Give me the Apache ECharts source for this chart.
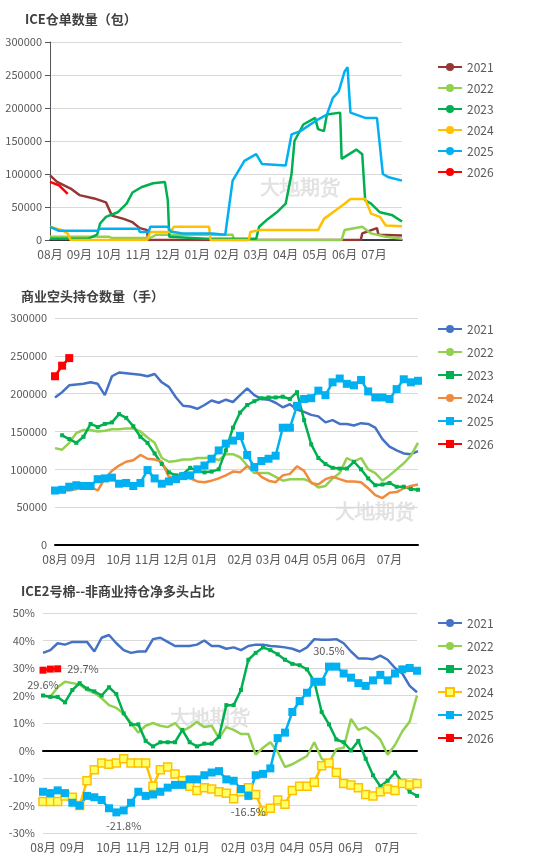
<!DOCTYPE html>
<html><head><meta charset="utf-8">
<script src="https://cdn.jsdelivr.net/npm/echarts@6/dist/echarts.min.js"></script>
<style>html,body{margin:0;padding:0;background:#fff}#chart{width:548px;height:864px}</style>
</head><body><div id="chart"></div>
<script>
var years = ['2021', '2022', '2023', '2024', '2025', '2026'];
var monthLabels = ['08月', '09月', '10月', '11月', '12月', '01月', '02月', '03月', '04月', '05月', '06月', '07月'];
var monthWeek = [0, 4, 9, 13, 17, 21, 26, 30, 34, 38, 42, 47];

// panel 1: ICE warehouse stocks, [month offset from Aug, bales]
var stock2021 = [[0,98000],[0.24,88000],[0.7,78000],[1.0,68000],[1.5,63000],[1.9,57000],[2.1,37000],[2.5,32000],[2.8,27000],[3.05,18000],[3.3,15000],[3.32,0],[10.55,0],[10.6,10000],[11.1,18000],[11.15,8000],[11.95,7000]];
var stock2022 = [[0,5000],[2.0,5000],[2.1,3000],[3.4,3000],[3.45,0],[3.6,8000],[6.2,8000],[6.25,0],[9.9,0],[10.0,15000],[10.6,20000],[10.9,10000],[11.4,5000],[11.95,2000]];
var stock2023 = [[0,2000],[1.3,2000],[1.6,8000],[1.7,25000],[1.9,35000],[2.3,42000],[2.6,55000],[2.8,72000],[3.1,80000],[3.5,86000],[3.9,88000],[4.0,60000],[4.05,5000],[5.3,2000],[7.0,2000],[7.1,20000],[7.4,32000],[7.7,42000],[8.0,55000],[8.2,100000],[8.3,150000],[8.6,175000],[9.0,185000],[9.1,168000],[9.3,165000],[9.4,190000],[9.85,193000],[9.9,123000],[10.4,137000],[10.6,130000],[10.7,60000],[10.9,55000],[11.2,42000],[11.6,38000],[11.95,28000]];
var stock2024 = [[0,20000],[0.4,15000],[0.6,10000],[0.7,0],[3.3,0],[3.4,12000],[4.1,12000],[4.2,20000],[5.4,20000],[5.45,0],[6.75,0],[6.8,12000],[7.1,15000],[9.1,15000],[9.3,32000],[9.7,45000],[10.0,55000],[10.2,62000],[10.7,62000],[10.9,40000],[11.2,35000],[11.4,22000],[11.95,21000]];
var stock2025 = [[0,20000],[0.3,14000],[1.6,14000],[1.7,17000],[3.0,17000],[3.05,12000],[3.35,12000],[3.4,20000],[4.0,20000],[4.1,13000],[4.5,10000],[5.5,10000],[5.95,8000],[6.2,90000],[6.6,120000],[7.0,130000],[7.2,115000],[8.0,113000],[8.2,160000],[8.5,165000],[9.0,180000],[9.4,190000],[9.6,215000],[9.8,225000],[10.0,255000],[10.1,262000],[10.2,193000],[10.7,185000],[11.1,185000],[11.3,100000],[11.5,95000],[11.95,90000]];
var stock2026 = [[0,88000],[0.3,83000],[0.6,70000]];

// panel 2: commercial short positions, weekly
var short2021 = [195000,202000,211000,212000,213000,215000,213000,198000,223000,228000,227000,226000,225000,223000,226000,215000,209000,195000,184000,183000,180000,185000,191000,188000,192000,189000,198000,207000,198000,193000,192000,188000,182000,186000,179000,176000,172000,170000,162000,165000,160000,160000,158000,161000,160000,155000,140000,130000,125000,121000,120000,124000];
var short2022 = [128000,126000,135000,148000,152000,152000,150000,151000,153000,153000,154000,154000,150000,142000,135000,115000,110000,111000,113000,113000,115000,115000,116000,112000,120000,120000,116000,105000,95000,95000,95000,90000,85000,87000,87000,87000,83000,76000,78000,88000,95000,115000,110000,115000,100000,95000,85000,92000,100000,108000,118000,135000];
var short2023 = [null,145000,140000,135000,143000,160000,156000,160000,162000,173000,168000,157000,143000,135000,121000,107000,96000,92000,94000,102000,98000,96000,97000,100000,125000,155000,175000,185000,190000,194000,195000,195000,196000,193000,202000,165000,133000,115000,107000,102000,101000,101000,110000,100000,88000,79000,80000,82000,77000,77000,74000,73000];
var short2024 = [72000,72000,72000,74000,77000,77000,72000,88000,98000,105000,110000,112000,119000,114000,113000,110000,90000,90000,93000,88000,84000,83000,85000,88000,92000,97000,96000,104000,100000,90000,85000,83000,92000,94000,104000,98000,82000,80000,87000,90000,87000,84000,84000,83000,75000,66000,62000,69000,70000,75000,78000,80000];
var short2025 = [72000,73000,77000,79000,78000,78000,87000,88000,89000,81000,82000,78000,82000,99000,88000,81000,84000,87000,91000,92000,100000,105000,114000,125000,134000,138000,144000,119000,103000,111000,114000,118000,155000,155000,184000,193000,194000,204000,198000,215000,220000,213000,211000,218000,203000,195000,195000,193000,206000,219000,215000,217000];
var short2026 = [223000,237000,247000];

// panel 3: non-commercial net long share, weekly (%)
var net2021 = [35.5,36.5,39,38.5,39.5,39.5,39.5,36,41,42,39,36.5,35.5,36,36,40.5,41,39.5,38,38,38,38.5,40,38,38,37,37.5,36.5,38,38.5,38.5,38,37.8,37.5,37,36,37.5,40.5,40.3,40.3,40.5,39,36,33.5,33.5,33.2,34.5,33,30,28,23.5,21.2];
var net2022 = [20,19.5,23,25,24.5,24,22,21,19,16.5,15.5,13.5,10,6.5,9,10,9,8.5,10,7,8.5,10.5,8.5,9,4.5,8.5,7.5,6,6,-1.5,1,3,-0.5,-6,-5,-3.5,-2,3,-3,-4.5,0.5,1,11.5,7.5,8.5,6.5,4,-1.5,2,7,10.5,20];
var net2023 = [20,19.5,19.5,17.5,22,24.5,22.5,21.5,20,23,20.5,13.5,9.5,9.5,3.5,1.5,3,3,3,7.5,3,1.5,2.5,2.5,5,16.5,16.5,22,33,35.5,37.5,36.5,35,33,31.5,31,29.5,25,14,9.5,4,3,0,3.5,-3,-9,-13,-11,-8,-11.5,-15,-16.5];
var net2024 = [-18.5,-18.5,-18.5,-16.5,-17,-20,-11,-7,-4.5,-5,-4.5,-3,-4.5,-4.5,-4.5,-13,-7,-6,-8.5,-11,-13,-14.5,-13.5,-14,-15,-15.5,-17.5,-15,-13.5,-16,-22,-21,-18,-19.5,-14.5,-13,-13,-11.5,-5.5,-4.5,-8,-12,-12.5,-13.5,-16,-16.5,-15,-14,-14.5,-12,-12.5,-12];
var net2025 = [-15,-15.5,-14.5,-15.5,-19,-20,-16.5,-17,-18,-21,-22.5,-21.8,-19,-15,-16.5,-16,-15,-13.5,-12.5,-12.5,-10.5,-10.5,-9,-8,-7.5,-10.5,-11,-14,-16.5,-9,-8.5,-6.5,4.5,6.5,14,18,21,25,25,30.5,30.5,28,26.5,24.5,23.5,25.5,27.5,25.5,28,29.5,30,29];
var net2026 = [29.2,29.6,29.7];

var weeks = net2021.map(function (v, i) { return 'W' + (i + 1); });

var txt = '#595959';
var font = '"Noto Sans CJK SC", "Noto Sans", sans-serif';
var col1 = ['#953735', '#92D050', '#00B050', '#FFC000', '#00B0F0', '#FF0000'];
var col2 = ['#4472C4', '#92D050', '#00B050', '#F08A3C', '#00B0F0', '#FF0000'];
var col3 = ['#4472C4', '#92D050', '#00B050', '#FFC000', '#00B0F0', '#FF0000'];

function monthAxis(gi) {
  return {
    type: 'category', gridIndex: gi, data: weeks, boundaryGap: false,
    axisTick: { show: false },
    axisLine: { lineStyle: { color: '#000', width: 2 } },
    axisLabel: {
      color: txt, fontSize: 12, margin: 8,
      interval: function (i) { return monthWeek.indexOf(i) >= 0; },
      formatter: function (v, i) { return monthLabels[monthWeek.indexOf(i)] || ''; }
    }
  };
}
function legendAt(top, names, gap) {
  return {
    orient: 'vertical', left: 432, top: top, itemGap: gap, itemWidth: 24, itemHeight: 10,
    data: names, textStyle: { color: txt, fontSize: 12 },
    formatter: function (n) { return n.trim(); }
  };
}
function labelled(arr, labels) {
  return arr.map(function (v, i) {
    var l = labels[i];
    return l ? { value: v, label: { show: true, position: l[1], formatter: l[0], color: txt, fontSize: 11, distance: 6 } } : v;
  });
}
function plain(v) { return String(v); }

var series = [];
var stocks = [stock2021, stock2022, stock2023, stock2024, stock2025, stock2026];
stocks.forEach(function (d, i) {
  series.push({ name: years[i], type: 'line', xAxisIndex: 0, yAxisIndex: 0, data: d, showSymbol: false, symbol: 'none',
    lineStyle: { width: 2.5, color: col1[i] }, itemStyle: { color: col1[i] }, z: i === 5 ? 10 : 2 });
});
var shorts = [short2021, short2022, short2023, short2024, short2025, short2026];
shorts.forEach(function (d, i) {
  var sym = i === 4 || i === 5 || i === 2 ? 'rect' : 'none';
  series.push({ name: years[i] + ' ', type: 'line', xAxisIndex: 1, yAxisIndex: 1, data: d,
    symbol: sym, symbolSize: i === 2 ? 4 : 8, showSymbol: sym !== 'none', showAllSymbol: true,
    lineStyle: { width: 2.5, color: col2[i] }, itemStyle: { color: col2[i] } });
});
var nets = [net2021, net2022, net2023, net2024, net2025, net2026];
var netLabels = [{}, {}, {}, {},
  { 11: ['-21.8%', 'bottom'], 28: ['-16.5%', 'bottom'], 39: ['30.5%', 'top'] },
  { 0: ['29.6%', 'bottom'], 2: ['29.7%', 'right'] }];
nets.forEach(function (d, i) {
  var sym = i >= 2 ? 'rect' : 'none';
  series.push({ name: years[i] + '  ', type: 'line', xAxisIndex: 2, yAxisIndex: 2, data: labelled(d, netLabels[i]),
    symbol: sym, symbolSize: i === 2 ? 4 : (i === 5 ? 7 : 8), showSymbol: sym !== 'none', showAllSymbol: true,
    lineStyle: { width: 2.5, color: col3[i] },
    itemStyle: i === 3 ? { color: '#FFFF66', borderColor: '#FFC000', borderWidth: 1.5 } : { color: col3[i] },
    z: i === 5 ? 10 : 2 });
});

var chart = echarts.init(document.getElementById('chart'));
chart.setOption({
  backgroundColor: '#fff',
  textStyle: { fontFamily: font },
  animation: false,
  title: [
    { text: 'ICE仓单数量（包）', left: 20, top: 8, textStyle: { fontSize: 13, fontWeight: 'bold', color: '#404040' } },
    { text: '商业空头持仓数量（手）', left: 16, top: 285, textStyle: { fontSize: 13, fontWeight: 'bold', color: '#404040' } },
    { text: 'ICE2号棉--非商业持仓净多头占比', left: 16, top: 580, textStyle: { fontSize: 13, fontWeight: 'bold', color: '#404040' } }
  ],
  graphic: [
    { type: 'text', left: 260, top: 178, style: { text: '大地期货', fontSize: 20, fontWeight: 'bold', fill: 'rgba(190,190,190,0.45)' } },
    { type: 'text', left: 335, top: 502, style: { text: '大地期货', fontSize: 20, fontWeight: 'bold', fill: 'rgba(190,190,190,0.45)' } },
    { type: 'text', left: 170, top: 708, style: { text: '大地期货', fontSize: 20, fontWeight: 'bold', fill: 'rgba(190,190,190,0.45)' } }
  ],
  legend: [
    legendAt(56, years, 9),
    legendAt(318, years.map(function (y) { return y + ' '; }), 11),
    legendAt(612, years.map(function (y) { return y + '  '; }), 11)
  ],
  grid: [
    { left: 50, right: 146, top: 42, bottom: 624 },
    { left: 55, right: 130, top: 318, bottom: 319 },
    { left: 43, right: 131, top: 613, bottom: 31 }
  ],
  xAxis: [
    { type: 'value', gridIndex: 0, min: 0, max: 11.95, interval: 1, splitLine: { show: false },
      axisTick: { show: false }, axisLine: { lineStyle: { color: '#000', width: 1.5 } },
      axisLabel: { color: txt, fontSize: 12, showMaxLabel: false, formatter: function (v) { return monthLabels[v] || ''; } } },
    monthAxis(1),
    monthAxis(2)
  ],
  yAxis: [
    { type: 'value', gridIndex: 0, min: 0, max: 300000, interval: 50000,
      axisLabel: { color: txt, fontSize: 11, formatter: plain }, splitLine: { lineStyle: { color: '#d9d9d9' } } },
    { type: 'value', gridIndex: 1, min: 0, max: 300000, interval: 50000,
      axisLabel: { color: txt, fontSize: 11, formatter: plain }, splitLine: { lineStyle: { color: '#d9d9d9' } } },
    { type: 'value', gridIndex: 2, min: -30, max: 50, interval: 10,
      axisLabel: { color: txt, fontSize: 11, formatter: '{value}%' }, splitLine: { lineStyle: { color: '#d9d9d9' } } }
  ],
  series: series
});
</script>
</body></html>
